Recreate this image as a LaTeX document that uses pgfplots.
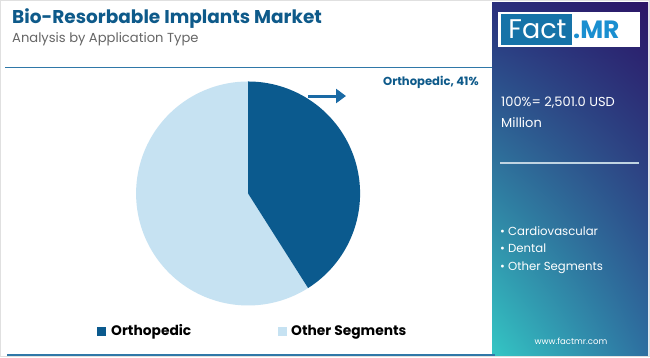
\documentclass[border=0pt]{standalone}
\usepackage{pgfplots}
\pgfplotsset{compat=1.18}
\usepackage{fontspec}
\setmainfont{Poppins}
\usetikzlibrary{arrows.meta,shadings}
\definecolor{titleblue}{HTML}{0E5A8A}
\definecolor{darkpie}{HTML}{0B5A8E}
\definecolor{lightpie}{HTML}{C6E2F2}
\definecolor{arrowblue}{HTML}{1A6AA5}
\definecolor{lineblue}{HTML}{2F78A8}
\definecolor{pUL}{HTML}{2A2F7C}
\definecolor{pUR}{HTML}{2B1667}
\definecolor{pLL}{HTML}{34C6C4}
\definecolor{pLR}{HTML}{2E6FA0}
\definecolor{logoblue}{HTML}{1673A8}
\definecolor{mrblue}{HTML}{1A8FD0}
\begin{document}
\begin{tikzpicture}[x=1pt,y=1pt]
\path[use as bounding box] (0,0) rectangle (650,357);
\fill[white] (0,0) rectangle (650,357);
\draw[black!12, line width=1] (0.5,0.5) rectangle (649.5,356.5);
% right panel
\shade[upper left=pUL, upper right=pUR, lower left=pLL, lower right=pLR] (492,2) rectangle (648,354);
% title
\node[anchor=base west, inner sep=0, text=titleblue, font=\fontsize{18.5}{20}\selectfont\bfseries] at (12,357-24) {Bio-Resorbable Implants Market};
\node[anchor=base west, inner sep=0, text=black!60, font=\fontsize{13.1}{15}\selectfont] at (12,357-42) {Analysis by Application Type};
\draw[lineblue, line width=1.2] (5,357-67.5) -- (492,357-67.5);
\draw[lineblue, line width=1.6] (7,2) -- (495,2);
% pie
\begin{axis}[at={(221.5,146)}, anchor=center, width=224pt, height=224pt, scale only axis,
  xmin=-1, xmax=1, ymin=-1, ymax=1, hide axis, clip=false]
% Orthopedic 41%, Other Segments 59%
\addplot[fill=lightpie, draw=none, domain=90-360:90-0.41*360, samples=120, variable=\t] ({cos(\t)},{sin(\t)}) -- (axis cs:0,0) -- cycle;
\addplot[fill=darkpie, draw=none, domain=90-0.41*360:90, samples=100, variable=\t] ({cos(\t)},{sin(\t)}) -- (axis cs:0,0) -- cycle;
\end{axis}
\draw[arrowblue, line width=3, -{Triangle[length=10pt, width=14pt]}] (308,357-96) -- (346,357-96);
\node[anchor=base west, inner sep=0, text=titleblue, font=\fontsize{11.6}{13}\selectfont\bfseries] at (383,357-85) {Orthopedic, 41\%};
% legend
\fill[darkpie] (96.5,357-335.5) rectangle (105.5,357-326.5);
\node[anchor=base west, inner sep=0, font=\fontsize{13.8}{15}\selectfont\bfseries] at (111,357-335) {Orthopedic};
\fill[lightpie] (277.5,357-335.5) rectangle (286.5,357-326.5);
\node[anchor=base west, inner sep=0, font=\fontsize{13.8}{15}\selectfont\bfseries] at (291,357-335) {Other Segments};
% logo
\fill[white] (498,357-47) rectangle (640,357-12);
\fill[logoblue] (501,357-45) rectangle (572,357-14);
\node[anchor=base, inner sep=0, text=white, font=\fontsize{27}{30}\selectfont] at (537.5,357-39) {Fact};
\node[anchor=base west, inner sep=0, text=mrblue, font=\fontsize{25}{28}\selectfont\bfseries] at (573,357-38.5) {.MR};
% panel text
\node[anchor=base west, inner sep=0, text=white, font=\fontsize{13}{15}\selectfont] at (501,357-106) {100\%= 2,501.0 USD};
\node[anchor=base west, inner sep=0, text=white, font=\fontsize{13}{15}\selectfont] at (501,357-127) {Million};
\draw[white!70!pLR, line width=1.5] (500,357-163) -- (639,357-163);
\node[anchor=base west, inner sep=0, text=white, font=\fontsize{11.7}{13}\selectfont] at (500,357-235) {\textbullet\ Cardiovascular};
\node[anchor=base west, inner sep=0, text=white, font=\fontsize{11.7}{13}\selectfont] at (500,357-252) {\textbullet\ Dental};
\node[anchor=base west, inner sep=0, text=white, font=\fontsize{11.7}{13}\selectfont] at (500,357-270) {\textbullet\ Other Segments};
\node[anchor=base, inner sep=0, text=white, font=\fontsize{8.5}{10}\selectfont] at (571,357-344) {www.factmr.com};
\end{tikzpicture}
\end{document}
